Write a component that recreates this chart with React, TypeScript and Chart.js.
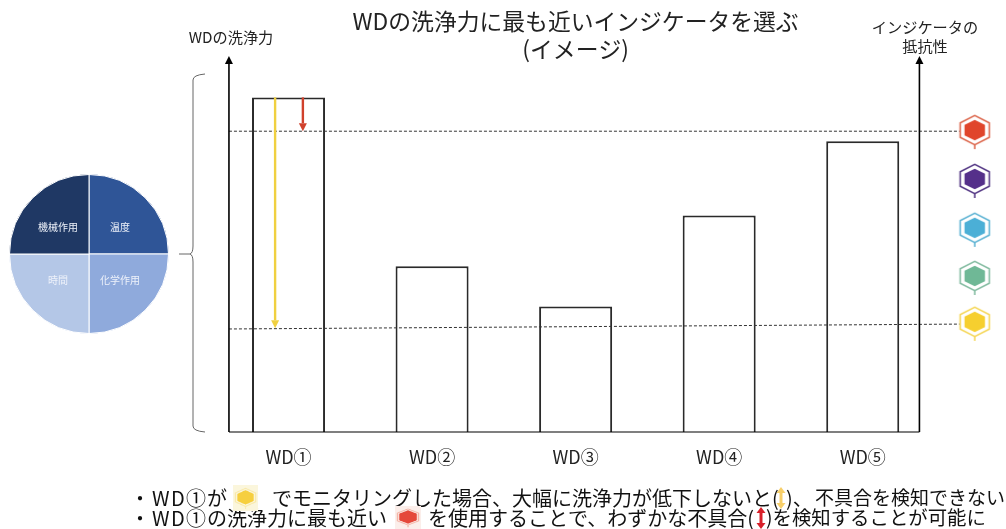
import React, { useEffect, useRef } from "react";
import { Chart, registerables } from "chart.js";

Chart.register(...registerables);

const JP = '"Noto Sans CJK JP", "Noto Sans", sans-serif';

const categories = ["WD①", "WD②", "WD③", "WD④", "WD⑤"];
const washPower = [89, 44.1, 33.4, 57.6, 77.3];
const indicatorResistance = [80.3, 67.3, 54.3, 41.5, 29.3];
const indicatorFill = ["#e0452b", "#55308a", "#4bafd6", "#6fb896", "#f6cf2f"];
const indicatorEdge = ["#dd6a50", "#563a86", "#5fb4d4", "#86bda3", "#f5d75a"];
const topRefLine = [80, 80];
const bottomRefLine = [27.4, 28.7];
const yellowDrop = [89, 27.6];
const redDrop = [89, 80];
const pieLabels = ["温度", "化学作用", "時間", "機械作用"];
const pieValues = [25, 25, 25, 25];
const pieColors = ["#2f5597", "#8faadc", "#b4c7e7", "#1f3864"];
const titleLines = ["WDの洗浄力に最も近いインジケータを選ぶ", "(イメージ)"];

function hexPath(c: CanvasRenderingContext2D, cx: number, cy: number, r: number) {
  c.beginPath();
  for (let i = 0; i < 6; i++) {
    const a = Math.PI / 6 + (i * Math.PI) / 3;
    const x = cx + r * Math.cos(a);
    const y = cy + r * 0.87 * Math.sin(a);
    if (i === 0) c.moveTo(x, y);
    else c.lineTo(x, y);
  }
  c.closePath();
}

function makeIcon(fill: string, edge: string, tint?: string, inner = 11.8) {
  const cv = document.createElement("canvas");
  cv.width = 36;
  cv.height = 42;
  const c = cv.getContext("2d")!;
  if (tint) {
    c.fillStyle = tint;
    c.fillRect(0, 0, 36, 42);
  }
  c.strokeStyle = edge;
  c.lineWidth = 1.6;
  hexPath(c, 18, 20, 16.8);
  c.stroke();
  c.fillStyle = fill;
  hexPath(c, 18, 20, inner);
  c.fill();
  c.beginPath();
  c.moveTo(18, 34.6);
  c.lineTo(18, 39);
  c.stroke();
  return cv;
}

export default function App() {
  const mainRef = useRef<HTMLCanvasElement>(null);
  const pieRef = useRef<HTMLCanvasElement>(null);

  useEffect(() => {
    const icons = indicatorFill.map((f, i) => makeIcon(f, indicatorEdge[i]));
    const smallYellow = makeIcon("#f6cf3f", "#f9e9a8", "#fbf6dc", 13.5);
    const smallRed = makeIcon("#e5483a", "#f4b4a6", "#fbeeea", 14);

    const xL = 0.017;
    const xR = 0.979;
    const xEnd = 1.035;
    const xIcon = 1.056;
    const xYellow = 0.0813;
    const xRed = 0.12;

    const deco = {
      id: "deco",
      afterDatasetsDraw(chart: any) {
        const { ctx } = chart;
        const xs = chart.scales.xi;
        const ys = chart.scales.y;
        const X = (v: number) => xs.getPixelForValue(v);
        const Y = (v: number) => ys.getPixelForValue(v);
        ctx.save();

        const arrow = (x: number, y0: number, y1: number, color: string, w: number, hw: number, hh: number, dir: number) => {
          ctx.strokeStyle = color;
          ctx.lineWidth = w;
          ctx.beginPath();
          ctx.moveTo(x, y0);
          ctx.lineTo(x, y1 - dir * hh);
          ctx.stroke();
          ctx.fillStyle = color;
          ctx.beginPath();
          ctx.moveTo(x, y1);
          ctx.lineTo(x - hw, y1 - dir * hh);
          ctx.lineTo(x + hw, y1 - dir * hh);
          ctx.closePath();
          ctx.fill();
        };

        // axes
        const yBase = Y(0);
        const yTop = Y(100);
        arrow(X(xL), yBase, yTop, "#000", 1.6, 4, 8, -1);
        arrow(X(xR), yBase, yTop, "#000", 1.6, 4, 8, -1);
        ctx.strokeStyle = "#000";
        ctx.lineWidth = 1.2;
        ctx.beginPath();
        ctx.moveTo(X(xL), yBase);
        ctx.lineTo(X(xR), yBase);
        ctx.stroke();

        // drop arrows on WD①
        arrow(X(xYellow), Y(yellowDrop[0]), Y(yellowDrop[1]), "#f0d040", 2.4, 4, 8, 1);
        arrow(X(xRed), Y(redDrop[0]), Y(redDrop[1]), "#d0412c", 2.4, 4, 8, 1);

        // indicator icons on the resistance scale
        indicatorResistance.forEach((v, i) => {
          const px = X(xIcon);
          const py = Y(v);
          ctx.drawImage(icons[i], px - 18, py - 20);
        });

        // brace
        ctx.strokeStyle = "#666";
        ctx.lineWidth = 1;
        ctx.beginPath();
        ctx.moveTo(205, 74);
        ctx.quadraticCurveTo(193, 75, 193, 80);
        ctx.lineTo(193, 246);
        ctx.quadraticCurveTo(193, 253, 190, 254);
        ctx.quadraticCurveTo(193, 255, 193, 262);
        ctx.lineTo(193, 426);
        ctx.quadraticCurveTo(193, 431, 205, 432);
        ctx.moveTo(179, 254);
        ctx.lineTo(190, 254);
        ctx.stroke();

        // axis captions
        ctx.fillStyle = "#222";
        ctx.textBaseline = "middle";
        ctx.textAlign = "center";
        ctx.font = `15.2px ${JP}`;
        ctx.fillText("WDの洗浄力", 231, 37);
        ctx.fillText("インジケータの", 925, 27);
        ctx.fillText("抵抗性", 925, 46);

        // note lines
        ctx.textAlign = "left";
        ctx.fillStyle = "#111";
        const y1 = 498;
        const y2 = 518;
        const put = (t: string, x: number, y: number, size: number, spacing = "0px") => {
          ctx.font = `${size}px ${JP}`;
          (ctx as any).letterSpacing = spacing;
          ctx.fillText(t, x, y);
          (ctx as any).letterSpacing = "0px";
        };
        put("・", 130, y1, 20);
        put("WD①", 152, y1, 20, "1.4px");
        put("が", 207, y1, 20);
        put("でモニタリングした場合、大幅に洗浄力が低下しないと(", 272, y1, 20);
        put(")、", 786, y1, 20);
        put("不具合を検知できない", 815, y1, 19);
        put("・", 130, y2, 20);
        put("WD①", 152, y2, 20, "1.4px");
        put("の洗浄力に最も近い", 207, y2, 20);
        put("を使用することで、わずかな不具合(", 428, y2, 20);
        put(")を検知することが可能に", 766, y2, 19.4);
        ctx.drawImage(smallYellow, 233, 485, 25, 26);
        ctx.drawImage(smallRed, 395, 506, 26, 23);
        // double arrows in the notes
        const dbl = (x: number, y: number, color: string, w: number, hw: number) => {
          arrow(x, y, y + 11, color, w, hw, 6, 1);
          arrow(x, y, y - 11, color, w, hw, 6, -1);
        };
        dbl(781, 498, "#f7cf6a", 3, 4.5);
        dbl(761, 518, "#d8202a", 3, 4.5);
        ctx.restore();
      },
    };

    const chart = new Chart(mainRef.current!, {
      type: "bar",
      data: {
        labels: categories,
        datasets: [
          {
            type: "bar",
            data: washPower,
            backgroundColor: "#ffffff",
            borderColor: "#2a2a2a",
            borderWidth: 2,
            grouped: false,
            categoryPercentage: 1,
            barPercentage: 0.5087,
            order: 3,
          },
          {
            type: "line",
            xAxisID: "xi",
            data: [
              { x: xL, y: topRefLine[0] },
              { x: xEnd, y: topRefLine[1] },
            ],
            borderColor: "#333",
            borderWidth: 1,
            borderDash: [3, 2],
            pointRadius: 0,
            clip: false,
            order: 2,
          },
          {
            type: "line",
            xAxisID: "xi",
            data: [
              { x: xL, y: bottomRefLine[0] },
              { x: xEnd, y: bottomRefLine[1] },
            ],
            borderColor: "#333",
            borderWidth: 1,
            borderDash: [3, 2],
            pointRadius: 0,
            clip: false,
            order: 2,
          },
        ] as any,
      },
      options: {
        animation: false,
        responsive: false,
        layout: { padding: { left: 216.75, right: 71.5, top: 8, bottom: 0 } },
        plugins: {
          legend: { display: false },
          tooltip: { enabled: false },
          title: {
            display: true,
            text: titleLines,
            color: "#222",
            font: { family: JP, size: 22.8, weight: "normal", lineHeight: 1.2 },
            padding: { top: 0, bottom: -6.7 },
          },
        },
        scales: {
          x: {
            offset: true,
            grid: { display: false },
            border: { display: false },
            ticks: { color: "#222", font: { family: JP, size: 18 }, padding: 6, maxRotation: 0 },
            afterFit(s: any) {
              s.height = 97;
            },
          },
          xi: { type: "linear", min: 0, max: 1, display: false, offset: false },
          y: { min: 0, max: 100, display: false },
        },
      } as any,
      plugins: [deco],
    });

    const pieText = {
      id: "pieText",
      afterDatasetsDraw(c: any) {
        const { ctx } = c;
        const meta = c.getDatasetMeta(0);
        ctx.save();
        ctx.fillStyle = "#eef2fa";
        ctx.font = `10px ${JP}`;
        ctx.textAlign = "center";
        ctx.textBaseline = "middle";
        meta.data.forEach((arc: any, i: number) => {
          const p = arc.getCenterPoint();
          const sx = p.x < arc.x ? -3 : 3;
          ctx.fillText(pieLabels[i], p.x + sx, p.y + (p.y < arc.y ? 1 : -2));
        });
        ctx.restore();
      },
    };

    const pie = new Chart(pieRef.current!, {
      type: "pie",
      data: {
        labels: pieLabels,
        datasets: [{ data: pieValues, backgroundColor: pieColors, borderColor: "#ffffff", borderWidth: 1 }],
      },
      options: {
        animation: false,
        responsive: false,
        layout: { padding: 1 },
        plugins: { legend: { display: false }, tooltip: { enabled: false } },
      } as any,
      plugins: [pieText],
    });

    return () => {
      chart.destroy();
      pie.destroy();
    };
  }, []);

  return (
    <div style={{ position: "fixed", left: 0, top: 0, width: 1006, height: 529, background: "#fff", overflow: "hidden" }}>
      <canvas ref={mainRef} width={1006} height={529} style={{ position: "absolute", left: 0, top: 0 }} />
      <canvas ref={pieRef} width={162} height={162} style={{ position: "absolute", left: 8, top: 173 }} />
    </div>
  );
}
